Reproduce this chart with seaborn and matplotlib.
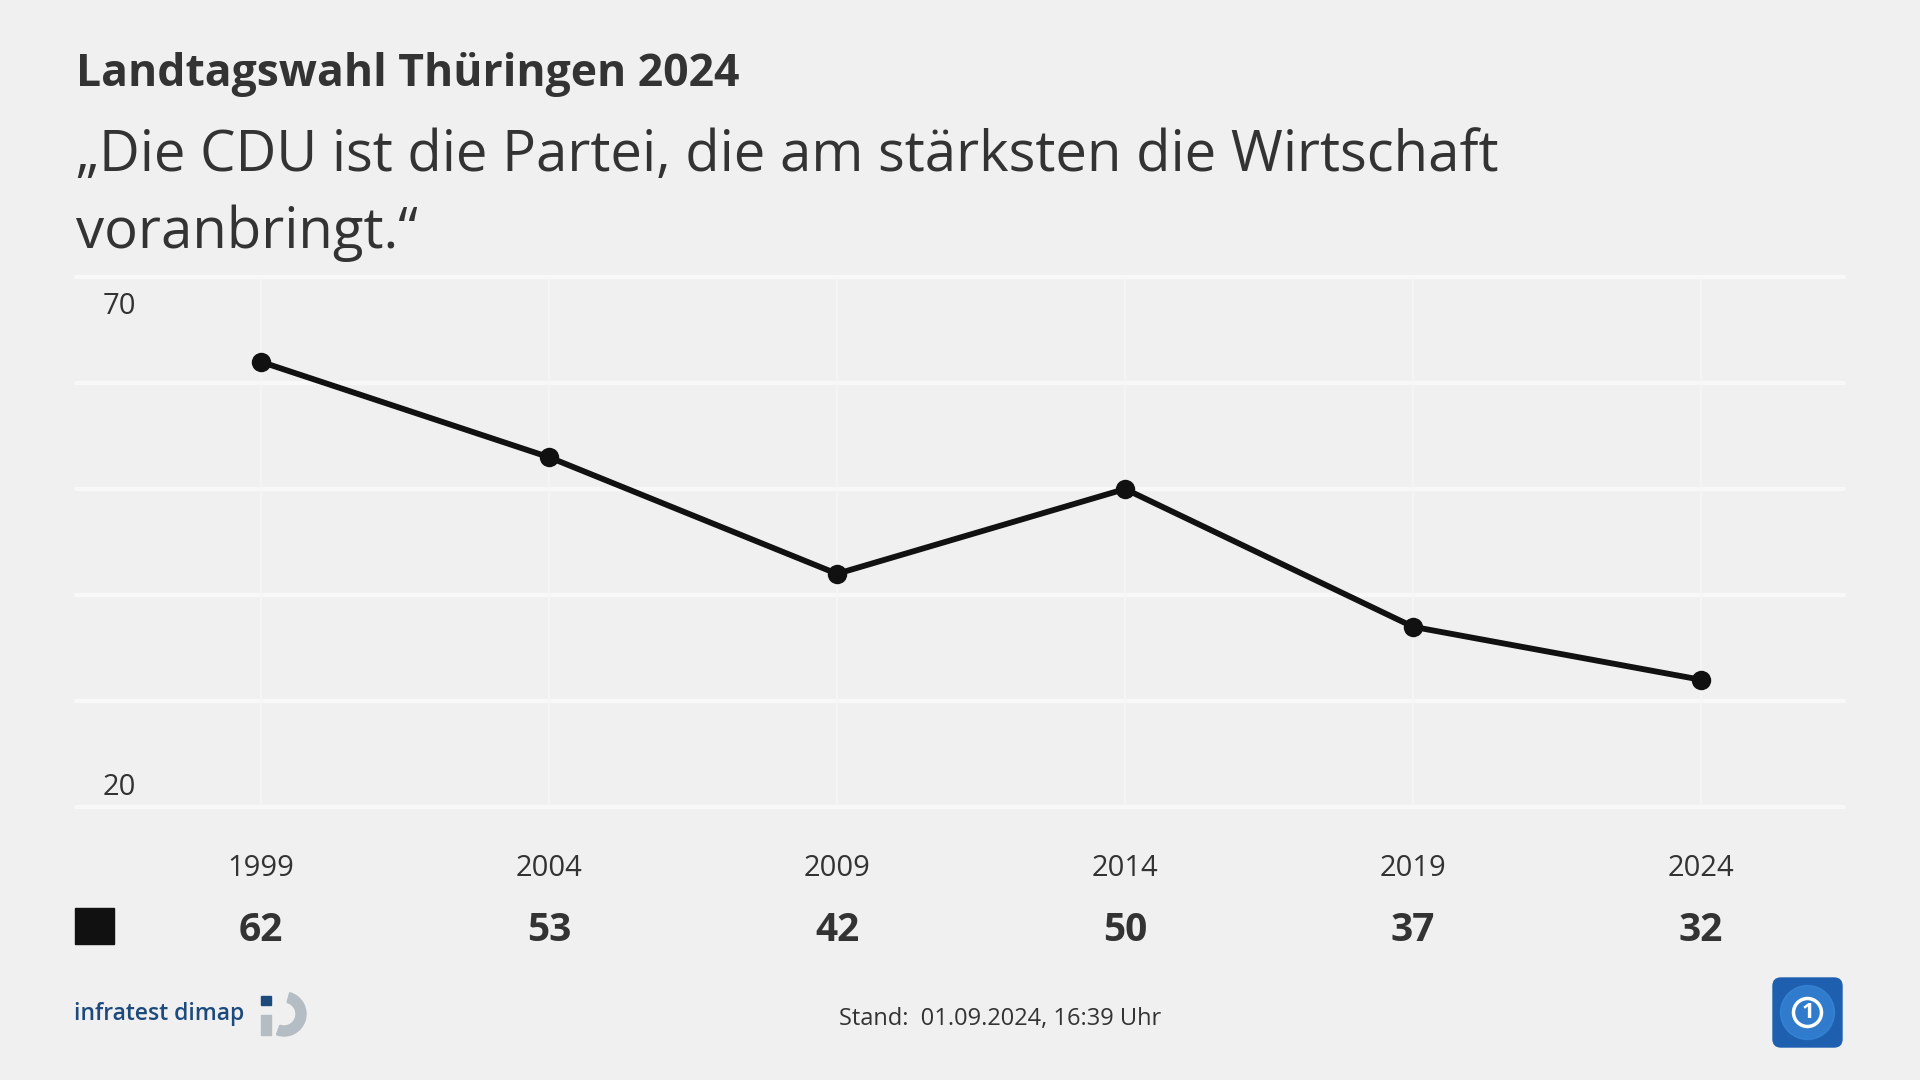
import numpy as np
import pandas as pd
import seaborn as sns
import matplotlib.pyplot as plt
from matplotlib.patches import Rectangle, Wedge, FancyBboxPatch, Circle

# data
years = [1999, 2004, 2009, 2014, 2019, 2024]
values = [62, 53, 42, 50, 37, 32]
y_ticks = [20, 30, 40, 50, 60, 70]
y_labels = {20: "20", 70: "70"}

title = "Landtagswahl Thüringen 2024"
subtitle = "\u201eDie CDU ist die Partei, die am stärksten die Wirtschaft\nvoranbringt.\u201c"
stand = "Stand:  01.09.2024, 16:39 Uhr"

bg = "#f0f0f0"
txt = "#333333"
line_col = "#111111"

sns.set_theme(style="white")
plt.rcParams['font.family'] = ['Open Sans', 'DejaVu Sans']

df = pd.DataFrame({"jahr": years, "wert": values})

W, H = 1920, 1080
fig = plt.figure(figsize=(19.2, 10.8), dpi=100, facecolor=bg)

def fx(px):
    return px / W

def fy(py):
    return 1 - py / H

ax_l, ax_r, ax_t, ax_b = 76, 1844, 277, 807
ax = fig.add_axes([fx(ax_l), fy(ax_b), fx(ax_r - ax_l), (ax_b - ax_t) / H])
ax.set_facecolor(bg)

sns.lineplot(data=df, x="jahr", y="wert", ax=ax, color=line_col, linewidth=4.2,
             marker="o", markersize=14, markeredgewidth=0, zorder=5)

ax.set_xlim(1995.79, 2026.48)
ax.set_ylim(20, 70)
ax.set_yticks(y_ticks)
ax.set_yticklabels([])
ax.set_xticks(years)
ax.set_xticklabels([str(y) for y in years], fontsize=21, color=txt)
ax.tick_params(axis="both", length=0)
ax.tick_params(axis="x", pad=34)
ax.set_xlabel("")
ax.set_ylabel("")
for s in ax.spines.values():
    s.set_visible(False)

ax.grid(False)
for yv in y_ticks:
    ax.axhline(yv, color="#f8f8f8", linewidth=3.2, zorder=1, clip_on=False)
for xv in years:
    ax.axvline(xv, color="#f6f6f6", linewidth=1.2, zorder=1)

# y labels inside plot
ax.annotate(y_labels[70], xy=(0, 70), xycoords=("axes fraction", "data"),
            xytext=(19, -11), textcoords="offset points", ha="left", va="top",
            fontsize=21, color=txt)
ax.annotate(y_labels[20], xy=(0, 20), xycoords=("axes fraction", "data"),
            xytext=(19, 3.5), textcoords="offset points", ha="left", va="bottom",
            fontsize=21, color=txt)

# values row
for yr, v in zip(years, values):
    ax.annotate(str(v), xy=(yr, 0), xycoords=("data", "axes fraction"),
                xytext=(0, -89), textcoords="offset points", ha="center", va="center",
                fontsize=28, fontweight="bold", color=txt)

# legend square
fig.patches.append(Rectangle((fx(75), fy(944)), fx(39), 36 / H,
                             transform=fig.transFigure, color=line_col, figure=fig))

# titles
fig.text(fx(76), fy(86), title, fontsize=32, fontweight="bold", color=txt,
         ha="left", va="baseline")
fig.text(fx(76), fy(171), subtitle.split("\n")[0], fontsize=40.5, color=txt,
         ha="left", va="baseline")
fig.text(fx(76), fy(248), subtitle.split("\n")[1], fontsize=40.5, color=txt,
         ha="left", va="baseline")

# footer
fig.text(fx(1000), fy(1019), stand, fontsize=17, color=txt, ha="center", va="center")
fig.text(fx(74), fy(1014), "infratest dimap", fontsize=16.5, fontweight="semibold",
         color="#1d4a7c", ha="left", va="center")
fig.patches.append(Rectangle((fx(261), fy(1005)), fx(10), 9 / H,
                             transform=fig.transFigure, color="#1d4a7c", figure=fig))
lax = fig.add_axes([fx(255), fy(1045), fx(60), 60 / H])
lax.set_xlim(0, 60)
lax.set_ylim(0, 60)
lax.set_aspect("equal")
lax.axis("off")
lax.add_patch(Wedge((29, 31), 22, -110, 75, width=10, color="#b4bcc4"))
lax.add_patch(Rectangle((6, 10), 10, 20, color="#b4bcc4"))

# ARD logo
aax = fig.add_axes([fx(1770), fy(1050), fx(75), 75 / H])
aax.set_xlim(0, 75)
aax.set_ylim(0, 75)
aax.set_aspect("equal")
aax.axis("off")
aax.add_patch(FancyBboxPatch((3, 3), 69, 69, boxstyle="round,pad=0,rounding_size=8",
                             color="#1e5fb0"))
aax.add_patch(Circle((37.5, 37.5), 27, color="#3d8ee0", alpha=0.6))
aax.add_patch(Circle((37.5, 37.5), 14, fill=False, edgecolor="white", linewidth=2.5))
aax.text(38, 37, "1", color="white", fontsize=16, fontweight="bold",
         ha="center", va="center")

fig.savefig("out.png", dpi=100, facecolor=bg)
